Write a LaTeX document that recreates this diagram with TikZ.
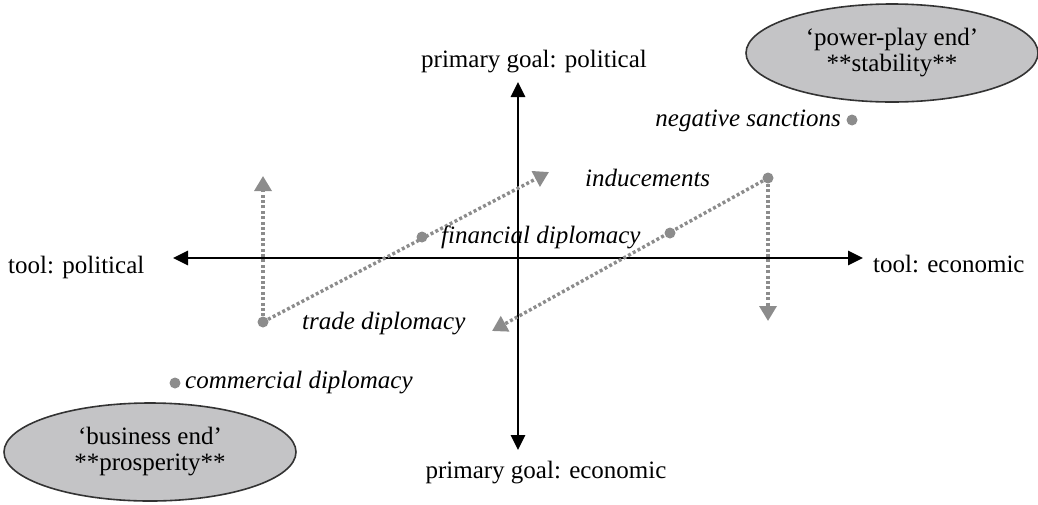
\documentclass[tikz,border=0pt]{standalone}
\usepackage{fontspec}
\setmainfont{Liberation Serif}
\usetikzlibrary{arrows.meta,shapes.geometric}
\definecolor{dotgray}{HTML}{8C8C8C}
\definecolor{ellfill}{HTML}{C4C4C6}
\tikzset{
  axis/.style={line width=2.8pt,black,-{Triangle[length=15pt,width=14pt]}},
  flow/.style={line width=3.4pt,dotgray,dash pattern=on 3pt off 2.4pt,-{Triangle[length=15pt,width=17pt]}},
  pt/.style={circle,fill=dotgray,inner sep=0pt,minimum size=11pt},
  lab/.style={inner sep=0pt,font=\fontsize{25}{26}\selectfont\itshape},
  axlab/.style={inner sep=0pt,font=\fontsize{25}{26}\selectfont},
  endell/.style={ellipse,draw=black!80,line width=1.6pt,fill=ellfill,minimum width=292pt,minimum height=98pt,inner sep=0pt,align=center,font=\fontsize{25}{26}\selectfont},
}
\begin{document}
\begin{tikzpicture}[x=1pt,y=-1pt]
\useasboundingbox (0,0) rectangle (1038,504);
% axes
\coordinate (L) at (173,258);
\coordinate (R) at (863,258);
\coordinate (U) at (518,82);
\coordinate (D) at (518,450);
\coordinate (O) at (518,258);
\draw[axis] (O) -- (L);
\draw[axis] (O) -- (R);
\draw[axis] (O) -- (U);
\draw[axis] (O) -- (D);
% axis labels
\node[axlab,anchor=base] (gp) at (534,67) {primary goal: political};
\node[axlab,anchor=base] (ge) at (546,478) {primary goal: economic};
\node[axlab,anchor=base west] (tp) at (8,273) {tool: political};
\node[axlab,anchor=base west] (te) at (873,272) {tool: economic};
% ellipses
\node[endell] (pp) at (892,53) {‘power-play end’\\**stability**};
\node[endell] (be) at (150,452) {‘business end’\\**prosperity**};
% points
\node[pt] (N) at (852,120) {};
\node[pt] (I) at (768,178) {};
\node[pt] (M) at (670,233) {};
\node[pt] (F) at (422,237) {};
\node[pt] (T) at (263,322) {};
\node[pt] (C) at (175,383) {};
% arrow ends
\coordinate (Tup) at (263,176);
\coordinate (Tend) at (549,172);
\coordinate (Idown) at (768,321);
\coordinate (Iend) at (492,331);
\draw[flow] (T) -- (Tup);
\draw[flow] (T) -- (Tend);
\draw[flow] (I) -- (Idown);
\draw[flow] (I) -- (Iend);
% labels
\node[lab,anchor=base east] (nl) at (841,126) {negative sanctions};
\node[lab,anchor=base west] (il) at (585,186) {inducements};
\node[lab,anchor=base west] (fl) at (441,243) {financial diplomacy};
\node[lab,anchor=base west] (tl) at (302,329) {trade diplomacy};
\node[lab,anchor=base west] (cl) at (185,388) {commercial diplomacy};
\end{tikzpicture}
\end{document}
